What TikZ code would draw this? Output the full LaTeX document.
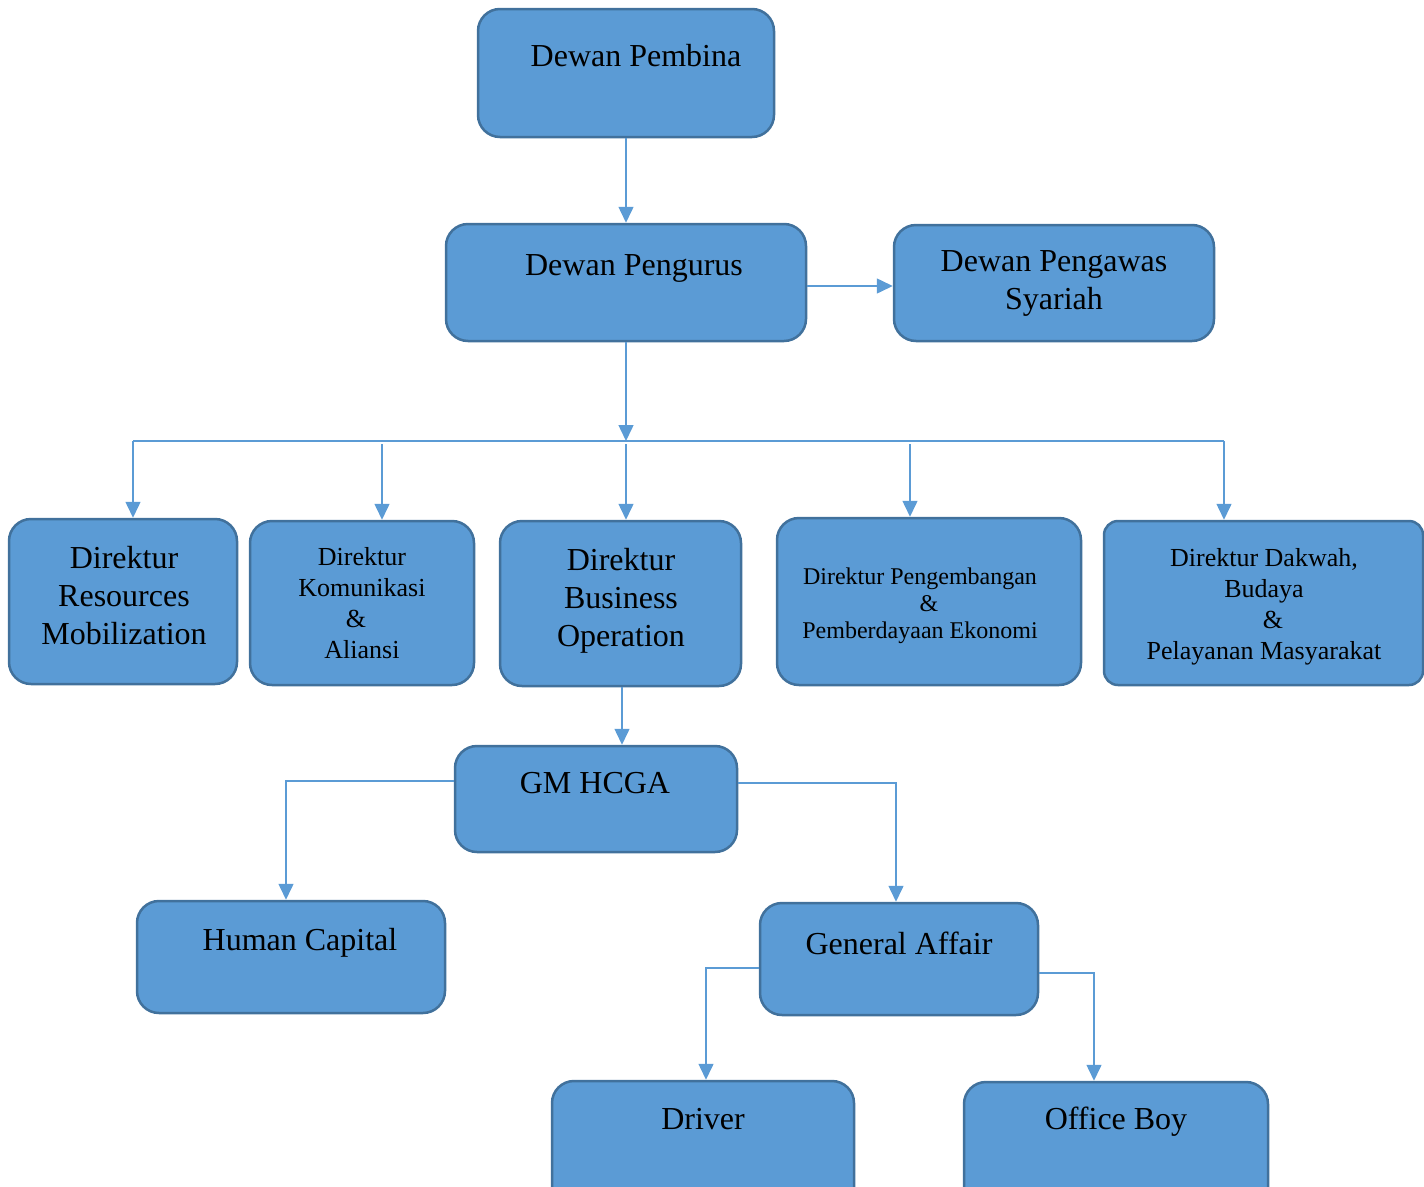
\documentclass[tikz,border=0pt]{standalone}
\usepackage{fontspec}
\setmainfont{Liberation Serif}
\usetikzlibrary{arrows.meta}
\definecolor{boxfill}{HTML}{5B9BD5}
\definecolor{boxline}{HTML}{41719C}
\definecolor{linkcol}{HTML}{5B9BD5}

\begin{document}
\begin{tikzpicture}[x=1pt,y=-1pt,>={Triangle[length=16pt,width=15pt]},
  box/.style={draw=boxline,fill=boxfill,line width=2.5pt,rounded corners=22pt,inner sep=0pt},
  link/.style={draw=linkcol,line width=1.5pt},
  bigtxt/.style={font=\fontsize{32}{38}\selectfont,align=center,inner sep=0pt},
  midtxt/.style={font=\fontsize{26}{31}\selectfont,align=center,inner sep=0pt},
  smalltxt/.style={font=\fontsize{24}{27}\selectfont,align=center,inner sep=0pt}]
  \clip (0,0) rectangle (1424,1186);

  \node[box,minimum width=296pt,minimum height=128pt] (pembina) at (626,73) {};
  \node[bigtxt] (pembina-t) at (636,56) {Dewan Pembina};
  \node[box,minimum width=360pt,minimum height=117pt] (pengurus) at (626,282.5) {};
  \node[bigtxt] (pengurus-t) at (634,268) {Dewan Pengurus};
  \node[box,minimum width=320pt,minimum height=116pt] (pengawas) at (1054,283) {};
  \node[bigtxt] (pengawas-t) at (1054,283) {Dewan Pengawas\\Syariah};

  \node[box,minimum width=228pt,minimum height=165pt] (dirA) at (123,601.5) {};
  \node[bigtxt] (dirA-t) at (124,596) {Direktur\\Resources\\Mobilization};
  \node[box,minimum width=224pt,minimum height=164pt] (dirB) at (362,603) {};
  \node[midtxt] (dirB-t) at (362,603) {Direktur\\Komunikasi\\\hspace*{-12pt}\&\\Aliansi};
  \node[box,minimum width=241pt,minimum height=165pt] (dirC) at (620.5,603.5) {};
  \node[bigtxt] (dirC-t) at (621,601) {Direktur\\Business\\Operation};
  \node[box,minimum width=304pt,minimum height=167pt] (dirD) at (929,601.5) {};
  \node[smalltxt] (dirD-t) at (920,606) {Direktur Pengembangan\\\hspace*{18pt}\&\\Pemberdayaan Ekonomi};
  \node[box,minimum width=319pt,minimum height=164pt,rounded corners=14pt] (dirE) at (1263.5,603) {};
  \node[midtxt] (dirE-t) at (1264,607) {Direktur Dakwah,\\Budaya\\\hspace*{18pt}\&\\Pelayanan Masyarakat};

  \node[box,minimum width=282pt,minimum height=106pt] (gm) at (596,799) {};
  \node[bigtxt] (gm-t) at (595,783) {GM HCGA};
  \node[box,minimum width=308pt,minimum height=112pt] (hc) at (291,957) {};
  \node[bigtxt] (hc-t) at (300,943) {Human Capital};
  \node[box,minimum width=278pt,minimum height=112pt] (ga) at (899,959) {};
  \node[bigtxt] (ga-t) at (899,943) {General Affair};
  \node[box,minimum width=302pt,minimum height=130pt] (driver) at (703,1146) {};
  \node[bigtxt] (driver-t) at (703,1119) {Driver};
  \node[box,minimum width=304pt,minimum height=130pt] (boy) at (1116,1147) {};
  \node[bigtxt] (boy-t) at (1116,1122) {Office Boy};

  \coordinate (hub) at (626,441);
  \coordinate (dropA) at (133,441);
  \coordinate (dropB) at (382,444);
  \coordinate (dropC) at (626,444);
  \coordinate (dropD) at (910,444);
  \coordinate (dropE) at (1224,441);

  \draw[link,->] (pembina) -- (pengurus);
  \draw[link,->] (pengurus.east |- 0,286) -- (pengawas.west |- 0,286);
  \draw[link,->] (pengurus) -- (hub);
  \draw[link] (dropA) -- (dropE);
  \draw[link,->] (dropA) -- (dropA |- dirA.north);
  \draw[link,->] (dropB) -- (dropB |- dirB.north);
  \draw[link,->] (dropC) -- (dropC |- dirC.north);
  \draw[link,->] (dropD) -- (dropD |- dirD.north);
  \draw[link,->] (dropE) -- (dropE |- dirE.north);
  \draw[link,->] ([xshift=1.5pt]dirC.south) -- ([xshift=1.5pt]dirC.south |- gm.north);
  \draw[link,->] ([yshift=18pt]gm.west) -| ([xshift=-5pt]hc.north);
  \draw[link,->] ([yshift=16pt]gm.east) -| ([xshift=-3pt]ga.north);
  \draw[link,->] ([yshift=-9pt]ga.west) -| ([xshift=3pt]driver.north);
  \draw[link,->] ([yshift=-14pt]ga.east) -| ([xshift=-22pt]boy.north);
\end{tikzpicture}
\end{document}
